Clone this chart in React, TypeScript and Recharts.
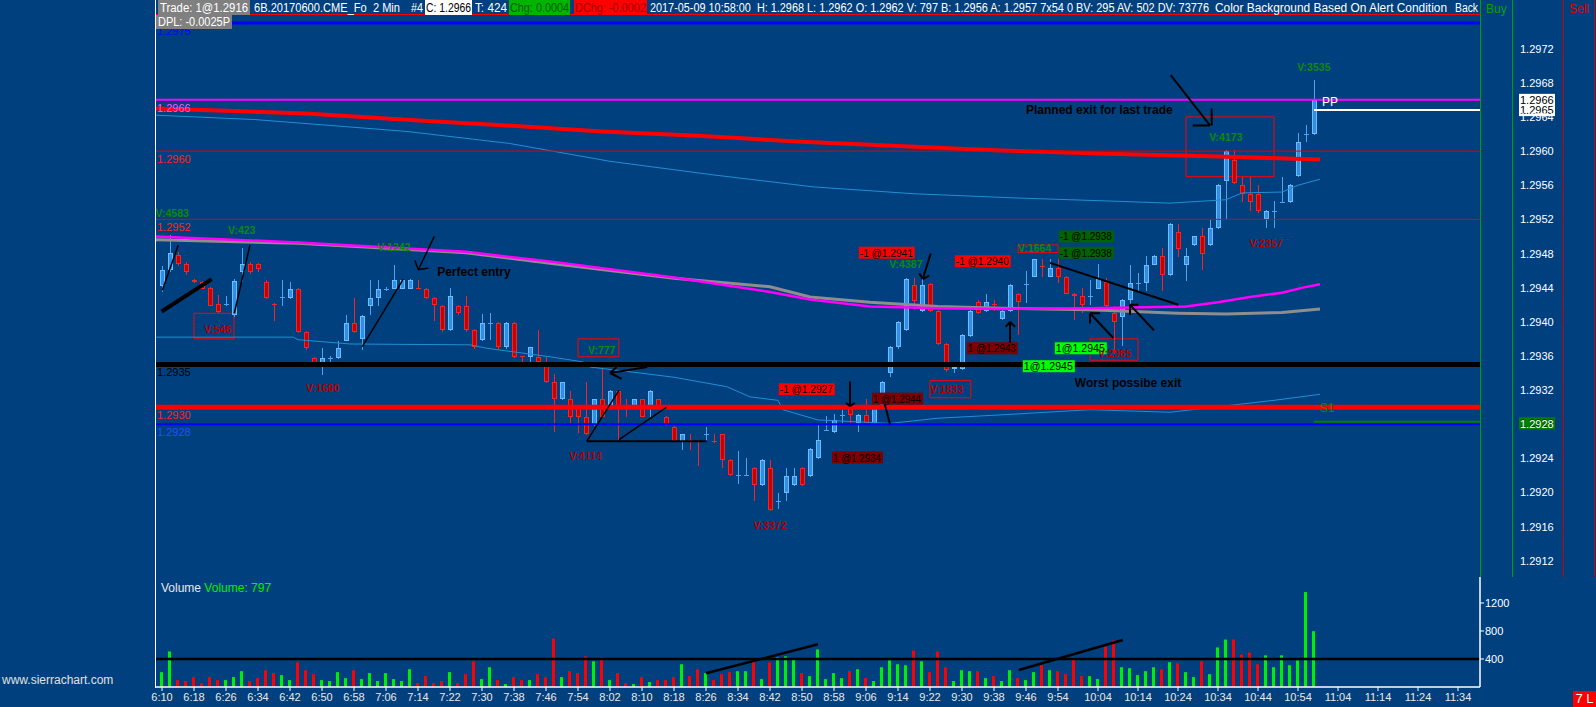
import React from 'react';
import {
  ComposedChart,
  Bar,
  Line,
  Scatter,
  XAxis,
  YAxis,
  ReferenceLine,
  ReferenceArea,
  Cell,
} from 'recharts';

// 6B June contract, 2 minute bars, 6:10 -> 10:58 (bar index 0..144)
const opens = [
  1.29442, 1.29461, 1.29478, 1.29468, 1.29449, 1.29447, 1.2944, 1.29421, 1.2942, 1.29408,
  1.29458, 1.29468, 1.29468, 1.29447, 1.29421, 1.29428, 1.29428, 1.29439, 1.29388, 1.29358,
  1.29349, 1.29357, 1.29357, 1.29378, 1.29398, 1.2938, 1.29419, 1.29428, 1.29438, 1.29439,
  1.29439, 1.29439, 1.2944, 1.29439, 1.29428, 1.29419, 1.2939, 1.29419, 1.29419, 1.2939,
  1.29379, 1.29398, 1.29399, 1.2937, 1.29399, 1.2936, 1.29359, 1.29359, 1.29351, 1.29329,
  1.29309, 1.29309, 1.29299, 1.29289, 1.29279, 1.29309, 1.29299, 1.29319, 1.293, 1.29299,
  1.29309, 1.29299, 1.29309, 1.29289, 1.29277, 1.2926, 1.29262, 1.2926, 1.29268, 1.2926,
  1.29268, 1.29238, 1.2922, 1.2922, 1.29229, 1.29209, 1.29229, 1.29189, 1.29199, 1.29209,
  1.29229, 1.29219, 1.2924, 1.29272, 1.29271, 1.2929, 1.29299, 1.29281, 1.29291, 1.29281,
  1.29303, 1.2934, 1.2937, 1.2939, 1.29443, 1.29413, 1.29444, 1.29413, 1.29374, 1.29345,
  1.29345, 1.29383, 1.29423, 1.29413, 1.29421, 1.29403, 1.29413, 1.29433, 1.29443, 1.29453,
  1.29465, 1.29453, 1.29463, 1.29453, 1.29433, 1.2943, 1.29429, 1.29439, 1.29447, 1.2941,
  1.29406, 1.29426, 1.29445, 1.29446, 1.29467, 1.29477, 1.29455, 1.29505, 1.29467, 1.2949,
  1.295, 1.2949, 1.2951, 1.29565, 1.2959, 1.2956, 1.2955, 1.2955, 1.2952, 1.29529,
  1.29539, 1.2954, 1.29571, 1.29619, 1.2962,
];
const highs = [
  1.29465, 1.29502, 1.29482, 1.2947, 1.2945, 1.29448, 1.29441, 1.29431, 1.2943, 1.2945,
  1.29486, 1.2947, 1.29469, 1.29449, 1.29422, 1.29449, 1.29447, 1.2944, 1.29389, 1.29359,
  1.29369, 1.2936, 1.29378, 1.29408, 1.29428, 1.29408, 1.29449, 1.29449, 1.29441, 1.29467,
  1.2945, 1.2945, 1.29449, 1.2944, 1.29429, 1.2942, 1.2944, 1.2942, 1.2943, 1.29391,
  1.29409, 1.2941, 1.294, 1.294, 1.294, 1.2936, 1.29371, 1.2939, 1.29359, 1.29339,
  1.2933, 1.29319, 1.293, 1.29329, 1.2931, 1.29346, 1.2932, 1.2932, 1.29309, 1.2931,
  1.2931, 1.2932, 1.2931, 1.2929, 1.29278, 1.29269, 1.29268, 1.29261, 1.29277, 1.29268,
  1.29269, 1.29239, 1.29249, 1.2924, 1.2923, 1.29239, 1.29238, 1.29199, 1.29229, 1.29229,
  1.2923, 1.29252, 1.29279, 1.2929, 1.29292, 1.29297, 1.29308, 1.29292, 1.2931, 1.29302,
  1.29331, 1.29372, 1.29401, 1.29451, 1.29451, 1.29451, 1.29445, 1.29414, 1.29375, 1.29352,
  1.29386, 1.29414, 1.29425, 1.29432, 1.29425, 1.29414, 1.29444, 1.29434, 1.2946, 1.29474,
  1.29473, 1.29473, 1.29473, 1.29454, 1.29434, 1.2944, 1.29449, 1.29468, 1.29451, 1.29418,
  1.29427, 1.29467, 1.29457, 1.29477, 1.29478, 1.29487, 1.29516, 1.29515, 1.29487, 1.29501,
  1.2951, 1.2952, 1.29561, 1.29601, 1.29601, 1.2957, 1.2957, 1.2956, 1.29531, 1.29541,
  1.2957, 1.29561, 1.29621, 1.29631, 1.29683,
];
const lows = [
  1.29435, 1.29458, 1.29465, 1.29455, 1.29445, 1.29438, 1.29418, 1.2941, 1.29419, 1.29406,
  1.29447, 1.29456, 1.29458, 1.29427, 1.29401, 1.29419, 1.29427, 1.29387, 1.29367, 1.2935,
  1.29338, 1.29352, 1.29356, 1.29377, 1.29387, 1.29367, 1.29408, 1.29419, 1.29436, 1.29438,
  1.29438, 1.29438, 1.29438, 1.29427, 1.29401, 1.29388, 1.29389, 1.29408, 1.29388, 1.29368,
  1.29378, 1.29379, 1.29368, 1.29368, 1.29358, 1.2935, 1.29353, 1.29352, 1.29328, 1.29271,
  1.29308, 1.29279, 1.2927, 1.29267, 1.29278, 1.29288, 1.29298, 1.2926, 1.29289, 1.29298,
  1.29288, 1.29289, 1.29298, 1.29278, 1.29259, 1.2925, 1.2925, 1.29231, 1.2926, 1.29258,
  1.29229, 1.29219, 1.2921, 1.29219, 1.2919, 1.29208, 1.29178, 1.29181, 1.2919, 1.29208,
  1.29208, 1.29218, 1.29239, 1.29272, 1.2927, 1.29281, 1.29281, 1.29271, 1.2928, 1.2928,
  1.29302, 1.29335, 1.29368, 1.29389, 1.29414, 1.29412, 1.29412, 1.29373, 1.29341, 1.2934,
  1.29344, 1.29382, 1.29409, 1.29412, 1.29413, 1.29402, 1.29412, 1.29385, 1.29422, 1.29452,
  1.29453, 1.29452, 1.29445, 1.29432, 1.29402, 1.2941, 1.2942, 1.29438, 1.29417, 1.29362,
  1.29372, 1.29416, 1.29436, 1.29436, 1.29466, 1.29436, 1.29454, 1.29476, 1.29448, 1.29489,
  1.29461, 1.29489, 1.29509, 1.2952, 1.29562, 1.2954, 1.2953, 1.29528, 1.2951, 1.2951,
  1.29539, 1.29539, 1.2957, 1.29611, 1.29619,
];
const closes = [
  1.29461, 1.29481, 1.29468, 1.29458, 1.29447, 1.29439, 1.29419, 1.29412, 1.29421, 1.29448,
  1.29468, 1.29458, 1.29462, 1.29428, 1.2942, 1.29429, 1.29439, 1.29388, 1.29369, 1.29352,
  1.29358, 1.29358, 1.29369, 1.29398, 1.29388, 1.29407, 1.29428, 1.29439, 1.29439, 1.29449,
  1.29449, 1.29449, 1.29439, 1.29428, 1.2942, 1.2939, 1.2943, 1.2941, 1.2939, 1.2937,
  1.29399, 1.29399, 1.2937, 1.29399, 1.29359, 1.29359, 1.2937, 1.29353, 1.29329, 1.29309,
  1.29329, 1.29289, 1.29289, 1.29268, 1.29309, 1.29289, 1.29319, 1.29299, 1.29299, 1.29309,
  1.29289, 1.29319, 1.29299, 1.29279, 1.2926, 1.29268, 1.2926, 1.29259, 1.29269, 1.29259,
  1.29238, 1.2922, 1.29221, 1.29221, 1.29209, 1.29238, 1.2918, 1.2919, 1.29219, 1.29219,
  1.29209, 1.29251, 1.29261, 1.29273, 1.29285, 1.29291, 1.29291, 1.29291, 1.29281, 1.29301,
  1.2933, 1.29371, 1.294, 1.2945, 1.29424, 1.29443, 1.29413, 1.29374, 1.29343, 1.29347,
  1.29385, 1.29413, 1.2941, 1.29423, 1.2942, 1.29413, 1.29443, 1.29423, 1.29444, 1.29473,
  1.29464, 1.29463, 1.29453, 1.29433, 1.2943, 1.2942, 1.2943, 1.2945, 1.29418, 1.294,
  1.29426, 1.29446, 1.29446, 1.29467, 1.29477, 1.29455, 1.29515, 1.29485, 1.29477, 1.295,
  1.2948, 1.2951, 1.2956, 1.296, 1.29563, 1.2955, 1.2954, 1.2953, 1.2953, 1.2953,
  1.2954, 1.2956, 1.29611, 1.2962, 1.2966,
];
const volumes = [
  212, 508, 99, 85, 141, 52, 141, 99, 99, 141,
  226, 85, 127, 240, 198, 169, 99, 353, 240, 184,
  99, 85, 212, 127, 240, 113, 198, 85, 198, 113,
  85, 254, 56, 155, 56, 85, 212, 56, 184, 367,
  113, 282, 99, 42, 141, 99, 99, 184, 141, 692,
  141, 226, 198, 438, 367, 424, 99, 198, 56, 42,
  141, 71, 99, 99, 141, 325, 155, 254, 198, 99,
  184, 212, 226, 226, 353, 113, 353, 424, 438, 395,
  198, 155, 536, 113, 198, 127, 226, 254, 127, 85,
  282, 381, 325, 311, 522, 367, 212, 508, 282, 85,
  240, 226, 226, 127, 155, 85, 240, 127, 99, 212,
  311, 240, 226, 184, 424, 155, 155, 113, 579, 664,
  282, 268, 169, 226, 282, 254, 353, 339, 212, 141,
  367, 184, 565, 678, 678, 466, 494, 325, 452, 282,
  452, 311, 381, 1356, 797,
];

const tickBars = [
  0, 4, 8, 12, 16, 20, 24, 28, 32, 36, 40, 44, 48, 52, 56, 60, 64, 68, 72, 76,
  80, 84, 88, 92, 96, 100, 104, 108, 112, 117, 122, 127, 132, 137, 142, 147, 152, 157, 162,
];
const tickLabels = [
  '6:10', '6:18', '6:26', '6:34', '6:42', '6:50', '6:58', '7:06', '7:14', '7:22',
  '7:30', '7:38', '7:46', '7:54', '8:02', '8:10', '8:18', '8:26', '8:34', '8:42',
  '8:50', '8:58', '9:06', '9:14', '9:22', '9:30', '9:38', '9:46', '9:54', '10:04',
  '10:14', '10:24', '10:34', '10:44', '10:54', '11:04', '11:14', '11:24', '11:34',
];
const priceTicks = [
  1.2912, 1.2916, 1.292, 1.2924, 1.2928, 1.2932, 1.2936, 1.294,
  1.2944, 1.2948, 1.2952, 1.2956, 1.296, 1.2964, 1.2968, 1.2972,
];
const volumeTicks = [400, 800, 1200];

// study lines, vertices as [bar, price]
const redAvg = [
  [-0.75, 1.2965], [18, 1.29644], [30, 1.29637], [43, 1.2963], [55, 1.29623], [67, 1.29618],
  [80, 1.29611], [92, 1.29606], [104, 1.29601], [118, 1.29597], [131, 1.29594], [144.75, 1.2959],
];
const grayAvg = [
  [-0.75, 1.29496], [17, 1.29492], [38, 1.29481], [49, 1.29468], [64, 1.29451], [76, 1.29441],
  [81, 1.29429], [88.5, 1.29423], [97, 1.29418], [105, 1.29416], [116, 1.29414], [127, 1.2941],
  [133, 1.29409], [140, 1.29411], [144.75, 1.29415],
];
const magentaAvg = [
  [-0.75, 1.295], [17, 1.29493], [38, 1.29482], [49, 1.2947], [64, 1.29452], [76, 1.29435],
  [81, 1.29426], [88.5, 1.29418], [97, 1.29416], [105, 1.29415], [116, 1.29416], [128, 1.29418],
  [132, 1.29423], [136, 1.29429], [140, 1.29434], [142.6, 1.2944], [144.75, 1.29444],
];
const upperBand = [
  [-0.75, 1.29642], [11.5, 1.29637], [30.6, 1.29623], [43.4, 1.29609], [56, 1.29588], [69, 1.29572],
  [81.5, 1.29558], [94, 1.2955], [107, 1.29545], [120, 1.29541], [126, 1.29539], [133, 1.29543],
  [135, 1.29551], [140, 1.29552], [142, 1.2956], [144.75, 1.29567],
];
const lowerBand = [
  [-0.75, 1.29382], [16.4, 1.29382], [17, 1.29379], [23.5, 1.29374], [38.5, 1.29373], [40.6, 1.29369],
  [48.5, 1.29359], [52.6, 1.29353], [53.5, 1.29347], [59.75, 1.2934], [64, 1.29335], [70.6, 1.29324],
  [73.5, 1.29312], [77, 1.29308], [77.6, 1.29297], [82, 1.29285], [91, 1.29281], [97, 1.29287],
  [105, 1.29291], [116, 1.29297], [126, 1.29294], [139, 1.29308], [144.75, 1.29315],
];

// bar volume notes
const volumeNotes = [
  { x: -0.8, y: 1.29527, text: 'V:4583', tone: 'up' },
  { x: 8.25, y: 1.29507, text: 'V:423', tone: 'up' },
  { x: 5.25, y: 1.29392, text: 'V:546', tone: 'down' },
  { x: 26.9, y: 1.29488, text: 'V:1242', tone: 'up' },
  { x: 18, y: 1.29322, text: 'V:1690', tone: 'down' },
  { x: 53.25, y: 1.29367, text: 'V:777', tone: 'up' },
  { x: 50.9, y: 1.29243, text: 'V:4114', tone: 'down' },
  { x: 73.9, y: 1.29162, text: 'V:3372', tone: 'down' },
  { x: 90.9, y: 1.29468, text: 'V:4387', tone: 'up' },
  { x: 107, y: 1.29486, text: 'V:1664', tone: 'up' },
  { x: 96, y: 1.29321, text: 'V:1833', tone: 'down' },
  { x: 117, y: 1.29363, text: 'V:2965', tone: 'down' },
  { x: 130.9, y: 1.29616, text: 'V:4173', tone: 'up' },
  { x: 135.9, y: 1.29492, text: 'V:2357', tone: 'down' },
  { x: 141.9, y: 1.29698, text: 'V:3535', tone: 'up' },
];
const noteBoxes = [
  [4, 9, 1.2938, 1.2941],
  [52, 57.1, 1.29359, 1.2938],
  [107, 112, 1.29481, 1.2949],
  [96, 101.1, 1.29311, 1.29331],
  [116, 122, 1.29355, 1.2938],
  [128, 139, 1.2957, 1.2964],
];
const remarks = [
  { x: 34.4, y: 1.29458, text: 'Perfect entry', tone: 'remark' },
  { x: 108, y: 1.29648, text: 'Planned exit for last trade', tone: 'remark' },
  { x: 114.1, y: 1.29328, text: 'Worst possibe exit', tone: 'remark' },
  { x: 145, y: 1.29657, text: 'PP', tone: 'pivot' },
  { x: 144.75, y: 1.29299, text: 'S1', tone: 'support' },
];
const fills = [
  { x: 87.1, y: 1.29488, text: '-1 @1.2941', kind: 'sell' },
  { x: 99.1, y: 1.29478, text: '-1 @1.2940', kind: 'sell' },
  { x: 77.1, y: 1.29328, text: '-1 @1.2927', kind: 'sell' },
  { x: 88.75, y: 1.29317, text: '1 @1.2944', kind: 'buy' },
  { x: 100.6, y: 1.29376, text: '1 @1.2943', kind: 'buy' },
  { x: 83.75, y: 1.29248, text: '1 @1.2934', kind: 'buy' },
  { x: 112.1, y: 1.29507, text: '-1 @1.2938', kind: 'sellOpen' },
  { x: 112.1, y: 1.29488, text: '-1 @1.2938', kind: 'sellOpen' },
  { x: 111.6, y: 1.29376, text: '1@1.2945', kind: 'buyOpen' },
  { x: 107.6, y: 1.29355, text: '1@1.2945', kind: 'buyOpen' },
];
// hand drawn lines: [bar, price, bar, price, width]
const drawings = [
  [-0.04, 1.29412, 6.21, 1.2945, 4],
  [0.04, 1.29437, 2.04, 1.2949, 1.5],
  [9.04, 1.2941, 11, 1.2949, 1.5],
  [25.04, 1.29371, 30.16, 1.2945, 1.5],
  [34.04, 1.295, 32.04, 1.29461, 1.5],
  [31.6, 1.29472, 32.04, 1.29461, 1.5],
  [33.29, 1.29463, 32.04, 1.29461, 1.5],
  [53.09, 1.2926, 57.13, 1.2932, 1.5],
  [57.13, 1.29262, 63.09, 1.293, 1.5],
  [53.09, 1.2926, 68.09, 1.2926, 2],
  [60.66, 1.29347, 56, 1.2934, 2],
  [57.46, 1.29333, 56, 1.2934, 2],
  [56.84, 1.29347, 56, 1.2934, 2],
  [86, 1.2933, 86, 1.29301, 2],
  [85.5, 1.29305, 86, 1.29301, 2],
  [86.6, 1.29305, 86, 1.29301, 2],
  [91, 1.2928, 90.16, 1.2931, 2],
  [89.75, 1.29306, 90.16, 1.2931, 2],
  [90.79, 1.29307, 90.16, 1.2931, 2],
  [96.09, 1.2948, 95.09, 1.2945, 2],
  [94.66, 1.29457, 95.09, 1.2945, 2],
  [95.91, 1.29454, 95.09, 1.2945, 2],
  [106, 1.29369, 106, 1.294, 2],
  [105.46, 1.29394, 106, 1.294, 2],
  [106.63, 1.29394, 106, 1.294, 2],
  [111, 1.29469, 127.04, 1.2942, 2],
  [118.91, 1.29381, 116, 1.2941, 2],
  [116, 1.29398, 116, 1.2941, 2],
  [117.25, 1.2941, 116, 1.2941, 2],
  [124, 1.2939, 121, 1.2942, 2],
  [121, 1.29408, 121, 1.2942, 2],
  [122.04, 1.2942, 121, 1.2942, 2],
  [126.09, 1.29689, 131, 1.2963, 2],
  [128.84, 1.2963, 131, 1.2963, 2],
  [131.21, 1.2965, 131.21, 1.2963, 2],
];
const volumeDrawings = [
  [68, 196, 82, 610],
  [107.1, 243, 120.1, 671],
];

const BG = '#01407e';
const FONT = '"Liberation Sans", Arial, sans-serif';
const X_DOMAIN: [number, number] = [-0.75, 164.75];
const PRICE_DOMAIN: [number, number] = [1.29101, 1.29777];

const candles = opens.map((o, i) => ({
  x: i,
  o,
  h: highs[i],
  l: lows[i],
  c: closes[i],
  range: [lows[i], highs[i]],
}));
const volumeRows = volumes.map((v, i) => ({ x: i, v, up: closes[i] >= opens[i] }));
const toPoints = (pts: number[][]) => pts.map(([x, y]) => ({ x, y }));
const labelOf: Record<number, string> = {};
tickBars.forEach((b, i) => (labelOf[b] = tickLabels[i]));

function Candle(props: any) {
  const { x, y, width, height, payload } = props;
  if (!payload || !Number.isFinite(y)) return null;
  const top = Math.min(y, y + height);
  const bottom = Math.max(y, y + height);
  const span = payload.h - payload.l || 1e-9;
  const toPx = (p: number) => top + ((payload.h - p) / span) * (bottom - top);
  const up = payload.c >= payload.o;
  const cx = Math.round(x + width / 2);
  const bTop = Math.round(toPx(Math.max(payload.o, payload.c)));
  const bBot = Math.round(toPx(Math.min(payload.o, payload.c)));
  const wick = up ? '#4aa3f0' : '#ff2020';
  const edge = up ? '#6cbcff' : '#ff2020';
  const body = up ? '#2f8fe8' : '#c40000';
  const bh = bBot - bTop;
  return (
    <g shapeRendering="crispEdges">
      <rect x={cx} y={top} width={1} height={Math.max(1, bottom - top)} fill={wick} />
      {bh < 2 ? (
        <rect x={cx - 2} y={bTop} width={5} height={1} fill={wick} />
      ) : (
        <g>
          <rect x={cx - 2} y={bTop} width={5} height={bh} fill={edge} />
          {bh > 2 && <rect x={cx - 1} y={bTop + 1} width={3} height={bh - 2} fill={body} />}
        </g>
      )}
    </g>
  );
}

const noteStyle: Record<string, any> = {
  up: { fill: '#0b8a0b', fontSize: 10.5, fontWeight: 700 },
  down: { fill: '#b40000', fontSize: 10.5, fontWeight: 700 },
  remark: { fill: '#000000', fontSize: 12, fontWeight: 700 },
  pivot: { fill: '#ffffff', fontSize: 12 },
  support: { fill: '#0b8a0b', fontSize: 12 },
};

function NoteText(props: any) {
  const { cx, cy, payload } = props;
  if (!Number.isFinite(cx)) return null;
  return (
    <text x={cx} y={cy} dominantBaseline="central" {...noteStyle[payload.tone]}>
      {payload.text}
    </text>
  );
}

const fillStyle: Record<string, { bg: string; w: number }> = {
  sell: { bg: '#ff0000', w: 56 },
  buy: { bg: '#800000', w: 51 },
  sellOpen: { bg: '#006400', w: 55 },
  buyOpen: { bg: '#00ff00', w: 52 },
};

function FillTag(props: any) {
  const { cx, cy, payload } = props;
  if (!Number.isFinite(cx)) return null;
  const s = fillStyle[payload.kind];
  return (
    <g>
      <rect x={cx} y={cy} width={s.w} height={12} fill={s.bg} />
      <text x={cx + 1} y={cy + 10} fontSize={11} fill="#000000" textLength={s.w - 3} lengthAdjust="spacingAndGlyphs">
        {payload.text}
      </text>
    </g>
  );
}

function LevelTag(props: any) {
  const vb = props.viewBox || {};
  const { x = 0, y = 0, width = 0 } = vb;
  const { text, color, box } = props;
  return (
    <g>
      {text && (
        <text x={x + 1} y={y + 12} fontSize={11} fill={color}>
          {text}
        </text>
      )}
      {box && (
        <g>
          <rect x={x + width + 39} y={y - 6} width={36} height={12} fill={box.bg} />
          <text x={x + width + 40} y={y + 4} fontSize={11} fill={box.fg}>
            {box.text}
          </text>
        </g>
      )}
    </g>
  );
}

function PriceTick(props: any) {
  const { y, payload } = props;
  return (
    <text x={1520} y={y} dy={4} fontSize={11} fill="#ffffff">
      {Number(payload.value).toFixed(4)}
    </text>
  );
}

// header strip: [left, width, text, background, colour]
const headerBoxes = [
  { x: 158, w: 92, bg: '#808080' },
  { x: 425, w: 47, bg: '#ffffff' },
  { x: 509, w: 61, bg: '#00b400' },
  { x: 574, w: 73, bg: '#ff0000' },
];
const headerTexts = [
  { x: 160, w: 88, text: 'Trade: 1@1.2916', color: '#ffffff' },
  { x: 254, w: 146, text: '6B.20170600.CME_Fo  2 Min', color: '#ffffff' },
  { x: 411, w: 12, text: '#4', color: '#ffffff' },
  { x: 426, w: 45, text: 'C: 1.2966', color: '#000000' },
  { x: 475, w: 32, text: 'T: 424', color: '#ffffff' },
  { x: 510, w: 59, text: 'Chg: 0.0004', color: '#006000' },
  { x: 575, w: 71, text: 'DChg: -0.0002', color: '#a00000' },
  { x: 650, w: 154, text: '2017-05-09 10:58:00  H: 1.2968', color: '#ffffff' },
  { x: 807, w: 402, text: 'L: 1.2962 O: 1.2962 V: 797 B: 1.2956 A: 1.2957 7x54 0 BV: 295 AV: 502 DV: 73776', color: '#ffffff' },
  { x: 1215, w: 232, text: 'Color Background Based On Alert Condition', color: '#ffffff' },
  { x: 1455, w: 23, text: 'Back', color: '#ffffff' },
];

export default function App() {
  return (
    <div
      style={{
        position: 'absolute',
        left: 0,
        top: 0,
        width: 1596,
        height: 707,
        background: BG,
        overflow: 'hidden',
        fontFamily: FONT,
      }}
    >
      <div style={{ position: 'absolute', left: 0, top: 0 }}>
        <ComposedChart
          width={1596}
          height={577}
          data={candles}
          margin={{ top: 0, right: 0, left: 156, bottom: 0 }}
        >
          <XAxis dataKey="x" type="number" domain={X_DOMAIN} allowDataOverflow hide />
          <YAxis
            orientation="right"
            type="number"
            width={116}
            domain={PRICE_DOMAIN}
            allowDataOverflow
            ticks={priceTicks}
            interval={0}
            axisLine={false}
            tickLine={false}
            tickSize={0}
            tickMargin={0}
            tick={<PriceTick />}
          />
          <Line data={toPoints(upperBand)} dataKey="y" type="linear" stroke="#1f8fd4" strokeWidth={1} dot={false} isAnimationActive={false} />
          <Line data={toPoints(lowerBand)} dataKey="y" type="linear" stroke="#1f8fd4" strokeWidth={1} dot={false} isAnimationActive={false} />
          <Line data={toPoints(grayAvg)} dataKey="y" type="linear" stroke="#8e8e8e" strokeWidth={3} dot={false} isAnimationActive={false} />
          <Line data={toPoints(magentaAvg)} dataKey="y" type="linear" stroke="#ff00ff" strokeWidth={2.5} dot={false} isAnimationActive={false} />
          <Line data={toPoints(redAvg)} dataKey="y" type="linear" stroke="#ff0000" strokeWidth={4} dot={false} isAnimationActive={false} />
          <Bar dataKey="range" barSize={5} shape={<Candle />} isAnimationActive={false} />

          <ReferenceLine y={1.2976} stroke="#ff0000" strokeWidth={1} />
          <ReferenceLine y={1.2975} stroke="#0000ff" strokeWidth={3} label={<LevelTag text="1.2975" color="#0000ff" />} />
          <ReferenceLine
            y={1.2966}
            stroke="#ff00ff"
            strokeWidth={2}
            label={<LevelTag text="1.2966" color="#ff55ff" box={{ bg: '#ffffff', fg: '#000000', text: '1.2966' }} />}
          />
          <ReferenceLine y={1.296} stroke="#e00000" strokeWidth={1} label={<LevelTag text="1.2960" color="#ff2020" />} />
          <ReferenceLine y={1.2952} stroke="#e00000" strokeWidth={1} label={<LevelTag text="1.2952" color="#ff2020" />} />
          <ReferenceLine y={1.2935} stroke="#000000" strokeWidth={5} label={<LevelTag text="1.2935" color="#000000" />} />
          <ReferenceLine y={1.2928} stroke="#0000ff" strokeWidth={2} label={<LevelTag text="1.2928" color="#2050ff" />} />
          <ReferenceLine y={1.293} stroke="#ff0000" strokeWidth={5} label={<LevelTag text="1.2930" color="#ff2020" />} />
          <ReferenceLine
            segment={[{ x: 144, y: 1.29648 }, { x: 164.75, y: 1.29648 }]}
            stroke="#ffffff"
            strokeWidth={2}
            label={<LevelTag box={{ bg: '#ffffff', fg: '#000000', text: '1.2965' }} />}
          />
          <ReferenceLine
            segment={[{ x: 144, y: 1.29283 }, { x: 164.75, y: 1.29283 }]}
            stroke="#008000"
            strokeWidth={2}
          />
          <ReferenceLine
            y={1.29281}
            stroke="none"
            label={<LevelTag box={{ bg: '#008000', fg: '#003000', text: '1.2928' }} />}
          />

          {noteBoxes.map(([x1, x2, y1, y2], i) => (
            <ReferenceArea key={`box-${i}`} x1={x1} x2={x2} y1={y1} y2={y2} fill="none" stroke="#ff0000" strokeWidth={1} />
          ))}
          {drawings.map(([x1, y1, x2, y2, w], i) => (
            <ReferenceLine
              key={`draw-${i}`}
              segment={[{ x: x1, y: y1 }, { x: x2, y: y2 }]}
              stroke="#000000"
              strokeWidth={w}
            />
          ))}
          <Scatter data={fills} dataKey="y" shape={<FillTag />} isAnimationActive={false} />
          <Scatter data={volumeNotes} dataKey="y" shape={<NoteText />} isAnimationActive={false} />
          <Scatter data={remarks} dataKey="y" shape={<NoteText />} isAnimationActive={false} />
        </ComposedChart>
      </div>

      <div style={{ position: 'absolute', left: 0, top: 577 }}>
        <ComposedChart
          width={1596}
          height={130}
          data={volumeRows}
          margin={{ top: 0, right: 0, left: 156, bottom: 0 }}
        >
          <XAxis
            dataKey="x"
            type="number"
            domain={X_DOMAIN}
            allowDataOverflow
            ticks={tickBars}
            interval={0}
            height={20}
            tickFormatter={(v) => labelOf[v] ?? ''}
            axisLine={{ stroke: '#ffffff', strokeWidth: 1.5 }}
            tickLine={{ stroke: '#ffffff' }}
            tickSize={4}
            tickMargin={2}
            tick={{ fill: '#e8e8e8', fontSize: 11 }}
          />
          <YAxis
            orientation="right"
            type="number"
            width={116}
            domain={[0, 1571]}
            allowDataOverflow
            ticks={volumeTicks}
            interval={0}
            axisLine={{ stroke: '#ffffff', strokeWidth: 1.5 }}
            tickLine={{ stroke: '#ffffff' }}
            tickSize={4}
            tickMargin={1}
            tick={{ fill: '#ffffff', fontSize: 11, textAnchor: 'start' }}
          />
          <Bar dataKey="v" barSize={3} isAnimationActive={false}>
            {volumeRows.map((r) => (
              <Cell key={`v-${r.x}`} fill={r.up ? '#00ee00' : '#ff0000'} />
            ))}
          </Bar>
          <ReferenceLine y={400} stroke="#000000" strokeWidth={2.5} />
          {volumeDrawings.map(([x1, y1, x2, y2], i) => (
            <ReferenceLine
              key={`vd-${i}`}
              segment={[{ x: x1, y: y1 }, { x: x2, y: y2 }]}
              stroke="#000000"
              strokeWidth={2.5}
            />
          ))}
        </ComposedChart>
      </div>

      {/* frame lines */}
      <div style={{ position: 'absolute', left: 155, top: 0, width: 1, height: 688, background: '#ffffff' }} />
      <div style={{ position: 'absolute', left: 1480, top: 0, width: 1, height: 577, background: '#00a000' }} />
      <div style={{ position: 'absolute', left: 1512, top: 0, width: 1, height: 577, background: '#00a000' }} />
      <div style={{ position: 'absolute', left: 1563, top: 0, width: 1, height: 577, background: '#d00000' }} />
      <div style={{ position: 'absolute', left: 1594, top: 0, width: 1, height: 577, background: '#d00000' }} />

      {/* header strip */}
      <svg style={{ position: 'absolute', left: 0, top: 0 }} width={1596} height={30}>
        {headerBoxes.map((b, i) => (
          <rect key={`hb-${i}`} x={b.x} y={0} width={b.w} height={15} fill={b.bg} />
        ))}
        {headerTexts.map((t, i) => (
          <text
            key={`ht-${i}`}
            x={t.x}
            y={12}
            fontSize={12}
            fill={t.color}
            textLength={t.w}
            lengthAdjust="spacingAndGlyphs"
            style={{ whiteSpace: 'pre' }}
          >
            {t.text}
          </text>
        ))}
        <rect x={156} y={15} width={76} height={14} fill="#808080" />
        <text x={158} y={26} fontSize={12} fill="#ffffff" textLength={72} lengthAdjust="spacingAndGlyphs">
          DPL: -0.0025P
        </text>
        <text x={1486} y={13} fontSize={12} fill="#00a000">Buy</text>
        <text x={1569} y={13} fontSize={12} fill="#e00000">Sell</text>
      </svg>

      <div style={{ position: 'absolute', left: 161, top: 581, fontSize: 12, color: '#e8e8e8', whiteSpace: 'pre' }}>
        Volume <span style={{ color: '#00ee00' }}>Volume: 797</span>
      </div>
      <div style={{ position: 'absolute', left: 2, top: 673, fontSize: 12, color: '#e0e0e0' }}>www.sierrachart.com</div>
      <div
        style={{
          position: 'absolute',
          left: 1573,
          top: 691,
          width: 23,
          height: 16,
          lineHeight: '16px',
          fontSize: 13,
          background: '#ff0000',
          color: '#ffffff',
          textAlign: 'center',
        }}
      >
        7 L
      </div>
    </div>
  );
}
